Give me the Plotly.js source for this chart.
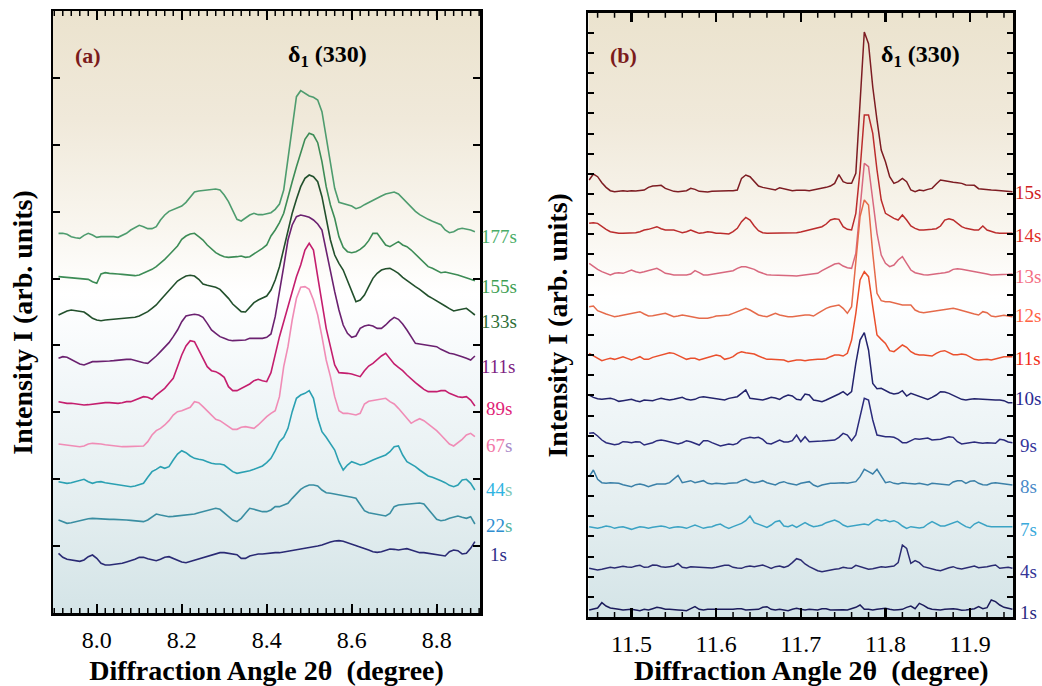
<!DOCTYPE html>
<html>
<head>
<meta charset="utf-8">
<script src="https://cdn.plot.ly/plotly-3.0.1.min.js"></script>
<style>
html,body{margin:0;padding:0;background:#ffffff;}
#chart{width:1042px;height:686px;}
</style>
</head>
<body>
<div id="chart"></div>
<script>
// ---------------- DATA ----------------
// Panel (a): diffraction angle 2θ (degree)
const angleA = [7.91,7.92,7.93,7.94,7.95,7.96,7.97,7.98,7.99,8.00,
8.01,8.02,8.03,8.04,8.05,8.06,8.07,8.08,8.09,8.10,
8.11,8.12,8.13,8.14,8.15,8.16,8.17,8.18,8.19,8.20,
8.21,8.22,8.23,8.24,8.25,8.26,8.27,8.28,8.29,8.30,
8.31,8.32,8.33,8.34,8.35,8.36,8.37,8.38,8.39,8.40,
8.41,8.42,8.43,8.44,8.45,8.46,8.47,8.48,8.49,8.50,
8.51,8.52,8.53,8.54,8.55,8.56,8.57,8.58,8.59,8.60,
8.61,8.62,8.63,8.64,8.65,8.66,8.67,8.68,8.69,8.70,
8.71,8.72,8.73,8.74,8.75,8.76,8.77,8.78,8.79,8.80,
8.81,8.82,8.83,8.84,8.85,8.86,8.87,8.88,8.89];

// stacked intensities (arb. units) for each time
const a177 = [1139,1139,1136,1129,1126,1124,1133,1139,1134,1127,
1129,1129,1131,1129,1127,1133,1139,1149,1157,1163,
1159,1153,1153,1159,1179,1194,1205,1211,1215,1221,
1232,1247,1263,1266,1268,1269,1270,1272,1269,1254,
1234,1207,1181,1176,1186,1194,1199,1195,1195,1197,
1201,1211,1227,1269,1364,1454,1549,1567,1559,1551,
1547,1539,1504,1429,1344,1274,1232,1228,1226,1221,
1213,1217,1225,1232,1239,1245,1251,1257,1261,1263,
1257,1244,1229,1215,1205,1195,1187,1181,1175,1171,
1165,1149,1141,1144,1151,1154,1152,1149,1144];

const a155 = [1009,1008,1007,1007,1005,1004,1003,1001,994,989,
1017,1021,1019,1017,1017,1016,1014,1013,1012,1014,
1019,1024,1031,1039,1049,1061,1074,1087,1101,1121,
1131,1137,1139,1129,1119,1104,1091,1081,1074,1069,
1067,1067,1069,1071,1067,1069,1077,1084,1094,1104,
1131,1149,1171,1199,1249,1294,1339,1384,1421,1439,
1434,1411,1354,1279,1224,1184,1129,1097,1084,1081,
1084,1091,1101,1117,1139,1139,1121,1104,1099,1107,
1114,1104,1099,1089,1077,1064,1051,1039,1034,1027,
1021,1023,1021,1017,1014,1009,1004,1001,997];

const a133 = [894,901,906,909,907,904,903,894,884,879,
877,879,880,881,881,882,883,884,887,891,
897,904,914,924,939,954,969,984,996,1004,
1011,1013,1011,1001,987,983,981,977,971,959,
944,927,914,904,903,917,931,939,945,951,
969,999,1039,1094,1149,1199,1241,1279,1304,1314,
1309,1294,1249,1179,1119,1074,1049,1029,999,969,
934,939,954,979,1004,1019,1029,1033,1034,1027,
1019,1007,997,987,979,971,961,951,944,937,
929,921,913,906,909,912,914,904,894];

const a111 = [764,769,767,761,754,747,744,749,754,754,
754,754,756,757,759,760,761,761,757,754,
751,749,759,771,784,797,811,829,849,874,
891,894,896,894,887,869,849,839,829,824,
819,817,817,817,819,824,824,824,824,827,
837,889,959,1039,1119,1164,1189,1194,1191,1187,
1179,1167,1149,1084,1024,964,909,864,839,827,
831,854,861,864,861,854,854,864,877,887,
881,867,849,827,809,807,805,804,803,799,
791,784,779,777,774,769,764,759,771];

const a89 = [634,631,629,629,627,626,624,625,627,627,
629,631,631,629,629,631,634,634,639,644,
649,647,641,654,664,674,689,704,739,774,
801,817,814,789,761,739,727,724,717,707,
679,667,667,674,681,687,697,701,697,694,
721,779,829,874,919,969,1009,1044,1089,1109,
1089,1009,924,854,799,744,721,721,719,717,
714,709,727,741,749,761,771,779,764,747,
737,727,714,701,691,681,671,664,663,664,
667,667,659,653,649,647,649,639,621];

const a67 = [507,505,503,501,501,499,501,507,509,509,
507,505,503,501,499,499,499,499,499,499,
501,514,534,547,554,564,577,594,604,607,
611,617,634,631,619,607,594,581,577,569,
559,551,551,557,559,556,554,564,577,589,
599,607,649,739,799,879,944,977,979,971,
939,894,829,759,709,649,607,599,599,597,
594,599,627,635,637,639,641,644,634,627,
614,599,581,569,577,583,577,567,557,547,
534,521,507,501,511,521,534,539,529];

const a44 = [394,392,389,391,395,399,401,394,389,393,
394,391,389,387,384,383,381,379,381,384,
389,407,424,431,439,434,439,459,477,487,
481,471,464,461,459,454,449,447,447,444,
434,424,419,421,424,427,431,437,441,451,
464,487,514,527,554,604,644,654,659,667,
644,584,544,527,509,489,454,429,444,454,
449,444,447,454,459,464,469,474,484,499,
501,474,454,447,439,429,419,411,407,403,
397,391,383,379,384,399,401,389,369];

const a22 = [279,273,269,271,274,277,281,283,284,283,
281,281,281,281,281,280,279,278,277,276,
274,279,289,297,294,291,289,290,291,292,
293,294,297,301,304,307,311,314,311,301,
289,279,274,284,299,314,311,307,304,304,
309,319,319,324,329,344,357,371,379,384,
384,381,369,361,359,357,355,351,349,347,
344,324,307,301,299,297,294,291,299,319,
324,325,327,328,329,330,327,311,294,281,
277,279,284,287,291,287,284,289,267];

const a1 = [179,167,161,159,157,155,159,169,174,164,
149,144,144,145,147,149,153,156,161,167,
167,163,159,157,161,167,169,164,157,153,
151,155,159,163,165,169,174,179,181,181,
179,177,175,164,164,171,174,177,177,179,
179,181,181,183,185,187,189,193,195,197,
199,201,204,209,213,216,217,215,211,207,
203,199,194,189,184,182,184,189,192,191,
189,191,193,189,184,181,181,179,177,175,
173,171,184,189,187,177,179,194,214];

const timesA = ['177s','155s','133s','111s','89s','67s','44s','22s','1s'];

// Panel (b)
const angleB = [11.450,11.455,11.460,11.465,11.470,11.475,11.480,11.485,11.490,11.495,
11.500,11.505,11.510,11.515,11.520,11.525,11.530,11.535,11.540,11.545,
11.550,11.555,11.560,11.565,11.570,11.575,11.580,11.585,11.590,11.595,
11.600,11.605,11.610,11.615,11.620,11.625,11.630,11.635,11.640,11.645,
11.650,11.655,11.660,11.665,11.670,11.675,11.680,11.685,11.690,11.695,
11.700,11.705,11.710,11.715,11.720,11.725,11.730,11.735,11.740,11.745,
11.750,11.755,11.760,11.765,11.770,11.775,11.780,11.785,11.790,11.795,
11.800,11.805,11.810,11.815,11.820,11.825,11.830,11.835,11.840,11.845,
11.850,11.855,11.860,11.865,11.870,11.875,11.880,11.885,11.890,11.895,
11.900,11.905,11.910,11.915,11.920,11.925,11.930,11.935,11.940,11.945,
11.950];

const b15 = [1311,1329,1321,1303,1289,1279,1276,1278,1279,1277,
1279,1278,1279,1281,1289,1293,1294,1295,1286,1281,
1277,1276,1278,1279,1286,1283,1277,1276,1275,1277,
1278,1278,1279,1279,1279,1281,1316,1326,1321,1306,
1293,1289,1286,1283,1281,1288,1285,1281,1279,1280,
1281,1280,1279,1281,1283,1285,1289,1293,1301,1327,
1306,1301,1301,1331,1531,1755,1720,1590,1491,1401,
1366,1321,1301,1306,1316,1306,1281,1276,1281,1279,
1283,1286,1299,1311,1309,1306,1304,1303,1301,1296,
1296,1295,1285,1283,1281,1281,1280,1279,1279,1277,
1276];

const b14 = [1181,1183,1181,1171,1163,1156,1153,1151,1151,1151,
1151,1153,1156,1161,1163,1166,1171,1165,1161,1161,
1161,1157,1153,1156,1161,1156,1151,1153,1156,1154,
1151,1151,1150,1149,1156,1166,1186,1199,1191,1173,
1159,1153,1151,1151,1152,1153,1153,1152,1151,1153,
1155,1158,1161,1165,1169,1171,1179,1191,1195,1193,
1171,1163,1161,1211,1341,1506,1506,1451,1341,1251,
1211,1203,1196,1191,1206,1191,1173,1166,1161,1161,
1161,1163,1165,1173,1191,1195,1191,1181,1171,1166,
1163,1161,1161,1173,1161,1156,1153,1151,1151,1151,
1151];

const b13 = [1061,1051,1043,1036,1031,1026,1031,1033,1031,1036,
1041,1036,1033,1036,1039,1043,1046,1039,1031,1029,
1026,1026,1026,1026,1029,1039,1033,1026,1026,1028,
1031,1033,1033,1035,1039,1046,1051,1051,1048,1043,
1036,1031,1027,1026,1026,1026,1025,1025,1024,1023,
1025,1026,1027,1029,1031,1039,1046,1053,1059,1061,
1053,1048,1046,1091,1231,1361,1351,1251,1151,1086,
1061,1051,1056,1071,1081,1061,1041,1033,1029,1027,
1026,1027,1029,1031,1033,1036,1043,1045,1043,1041,
1039,1036,1033,1031,1029,1026,1026,1026,1026,1028,
1029];

const b12 = [931,933,919,913,909,905,901,903,906,909,
911,915,916,909,903,904,906,909,911,906,
901,903,906,904,901,899,896,896,896,899,
903,904,905,906,911,916,923,926,921,913,
906,903,901,906,911,906,903,901,901,903,
906,906,906,903,911,919,926,931,934,936,
926,911,931,1071,1201,1251,1236,1091,971,949,
946,946,943,939,936,936,936,921,915,913,
915,917,919,921,923,926,926,923,919,915,
911,909,906,916,913,903,901,903,905,903,
901];

const b11 = [791,783,776,769,773,776,773,776,781,776,
771,776,781,773,773,779,783,786,791,793,
791,786,779,773,776,776,771,775,779,781,
786,783,773,776,781,791,796,793,791,789,
783,779,773,773,773,773,771,766,769,771,
771,769,771,773,773,773,775,781,786,786,
783,791,831,911,1011,1036,1021,931,846,833,
821,799,796,806,816,809,796,789,786,786,
785,783,791,797,799,793,787,787,789,787,
781,773,771,773,773,771,775,779,781,781,
781];

const b10 = [666,659,655,653,655,656,653,647,649,651,
653,649,646,651,651,649,653,656,653,651,
653,657,659,653,651,653,659,661,659,659,
657,653,651,656,659,661,671,681,656,655,
653,651,655,659,657,653,661,666,663,653,
651,669,666,651,649,646,651,656,663,669,
676,666,676,761,831,853,801,701,685,686,
679,673,669,671,679,663,671,666,661,657,
653,659,666,676,675,671,666,659,653,651,
653,655,654,653,651,651,651,651,649,643,
643];

const b9 = [551,553,543,531,523,519,517,519,526,525,
523,526,525,516,519,523,529,531,529,526,
523,519,523,529,526,521,516,529,529,523,
519,513,516,519,517,521,533,537,539,537,
539,533,521,519,526,531,525,525,529,546,
526,541,526,526,527,528,529,529,531,539,
551,546,529,546,601,656,651,591,546,543,
541,541,539,533,523,523,529,535,533,535,
537,531,531,533,537,541,539,526,519,521,
523,525,523,521,523,522,521,533,531,525,
523];

const b8 = [421,441,413,403,401,403,402,401,397,393,
391,397,399,396,391,395,399,399,399,403,
413,425,403,407,409,403,405,409,401,399,
401,400,399,401,401,403,409,413,406,403,
405,409,403,399,396,403,406,401,399,396,
401,403,406,396,391,396,399,401,401,403,
403,401,403,406,421,443,436,429,443,421,
403,406,401,399,403,401,400,399,401,399,
396,401,400,399,397,396,405,409,409,401,
407,409,401,397,396,401,403,401,399,398,
396];

const b7 = [271,269,266,269,273,271,266,269,271,267,
263,267,271,269,266,269,271,273,271,266,
269,271,269,266,271,276,271,266,269,271,
276,279,271,266,271,276,281,289,303,283,
279,273,269,276,286,289,273,271,276,269,
276,283,276,271,273,276,283,287,291,285,
276,271,273,275,277,279,276,286,293,288,
291,286,289,283,273,266,271,270,267,269,
279,286,279,273,273,277,281,287,279,271,
267,279,285,279,273,271,271,272,273,272,
271];

const b4 = [146,143,141,143,146,149,147,149,152,150,
149,153,155,149,150,156,155,151,149,151,
153,161,149,147,151,150,149,148,146,147,
149,153,155,155,149,147,146,151,153,151,
153,156,151,146,151,153,149,153,163,175,
171,159,151,145,139,136,139,141,143,145,
149,147,146,155,151,145,143,145,149,151,
149,151,153,163,216,206,161,169,163,151,
147,143,141,139,144,148,151,146,144,147,
150,153,148,149,151,154,156,146,148,149,
146];

const b1 = [21,23,27,43,33,27,26,23,21,23,
23,21,19,23,21,25,29,27,23,23,
21,21,20,19,25,31,23,21,23,23,
22,21,21,23,23,25,25,21,22,23,
23,29,31,23,21,23,21,19,23,26,
23,21,23,22,21,25,25,21,22,23,
22,21,25,29,36,23,23,21,23,25,
26,23,21,22,23,29,33,25,41,35,
27,23,22,21,23,25,25,23,20,21,
23,25,31,25,28,51,46,36,29,26,
23];

const timesB = ['15s','14s','13s','12s','11s','10s','9s','8s','7s','4s','1s'];

// ---------------- STYLE ----------------
const seriesA = [a177,a155,a133,a111,a89,a67,a44,a22,a1];
const seriesB = [b15,b14,b13,b12,b11,b10,b9,b8,b7,b4,b1];

const lineColA = ['#4e9c6e','#3d8c56','#22502c','#6b2170','#c41e6e','#f08cb6','#2ba0b2','#3a8ea2','#2a2a74'];
const textColA = [['#4aad68','#4aad68'],['#3f9f55','#3f9f55'],['#2e6e36','#2e6e36'],['#7d2282','#7d2282'],
  ['#e01f78','#e01f78'],['#f27aa8','#a98ac8'],['#2fb4e2','#80c8b8'],['#2f8ed0','#55b3a3'],['#30308a','#30308a']];
const labelYA = [1129,979,874,739,614,504,371,264,176];

const lineColB = ['#7d1c22','#bb2c2c','#d8687e','#e56a4a','#ea4f2c','#23236c','#2b2b7c','#3b80a8','#3ba3c4','#2b2b72','#1c1c5c'];
const textColB = ['#cf2222','#e0302a','#f46e82','#ff6444','#f2301a','#2a2a92','#36369c','#4a8ac8','#3aaadc','#353596','#2a2a82'];
const labelYB = [1273,1146,1021,906,776,656,516,391,263,136,13];

const W = 1042, H = 686;
const domXA = [53/W, 480/W], domYA = [1-613/H, 1-11/H];
const domXB = [588.3/W, 1013.3/W], domYB = [1-617/H, 1-12.7/H];
const rangeXA = [7.897, 8.902], rangeXB = [11.449, 11.951];
const rangeYA = [0, 1806], rangeYB = [0, 1813];
const serif = 'Liberation Serif, Times New Roman, serif';

// background gradient (bottom pale blue -> white -> beige top), filled over each axis range
const bgScale = [[0,'#d4e4e7'],[0.18,'#e4eef0'],[0.38,'#f2f7f9'],[0.53,'#ffffff'],
  [0.64,'#f9f6ef'],[0.82,'#f0e9da'],[1,'#ebe3ce']];
function bgTrace(xr, yr, xa, ya){
  return {type:'scatter',mode:'none',x:[xr[0],xr[1],xr[1],xr[0],xr[0]],y:[yr[0],yr[0],yr[1],yr[1],yr[0]],
    xaxis:xa,yaxis:ya,fill:'toself',fillcolor:'#f7f6f2',
    fillgradient:{type:'vertical',colorscale:bgScale,start:yr[0],stop:yr[1]},
    hoverinfo:'skip',showlegend:false};
}

const traces = [bgTrace(rangeXA,rangeYA,'x','y'), bgTrace(rangeXB,rangeYB,'x2','y2')];
seriesA.forEach((ys,i)=>{
  traces.push({type:'scatter',mode:'lines',x:angleA,y:ys,xaxis:'x',yaxis:'y',
    name:timesA[i],line:{color:lineColA[i],width:1.6},hoverinfo:'skip'});
});
seriesB.forEach((ys,i)=>{
  traces.push({type:'scatter',mode:'lines',x:angleB,y:ys,xaxis:'x2',yaxis:'y2',
    name:timesB[i],line:{color:lineColB[i],width:1.5},hoverinfo:'skip'});
});

const annotations = [];
timesA.forEach((t,i)=>{
  const num = t.slice(0,-1);
  annotations.push({xref:'x domain',yref:'y',x:1,y:labelYA[i],xanchor:'center',yanchor:'middle',xshift:18.5,
    showarrow:false,font:{family:serif,size:19,color:textColA[i][0]},
    text:'<span style="color:'+textColA[i][0]+'">'+num+'</span><span style="color:'+textColA[i][1]+'">s</span>'});
});
timesB.forEach((t,i)=>{
  annotations.push({xref:'x2 domain',yref:'y2',x:1,y:labelYB[i],xanchor:'center',yanchor:'middle',xshift:15,
    showarrow:false,font:{family:serif,size:19,color:textColB[i]},text:t});
});
annotations.push({xref:'paper',yref:'paper',x:87.7/W,y:1-55/H,xanchor:'center',yanchor:'middle',showarrow:false,
  text:'<b>(a)</b>',font:{family:serif,size:22,color:'#7b1b1b'}});
annotations.push({xref:'paper',yref:'paper',x:623/W,y:1-55/H,xanchor:'center',yanchor:'middle',showarrow:false,
  text:'<b>(b)</b>',font:{family:serif,size:22,color:'#7b1b1b'}});
annotations.push({xref:'paper',yref:'paper',x:327.5/W,y:1-56/H,xanchor:'center',yanchor:'middle',showarrow:false,
  text:'<b>δ<sub>1</sub> (330)</b>',font:{family:serif,size:24,color:'#000'}});
annotations.push({xref:'paper',yref:'paper',x:920.5/W,y:1-56/H,xanchor:'center',yanchor:'middle',showarrow:false,
  text:'<b>δ<sub>1</sub> (330)</b>',font:{family:serif,size:24,color:'#000'}});

// ---- minor inside tick marks on top & bottom edges (placed on the axes' own scales) ----
const shapes = [];
function xMinorTicks(xr, yr, first, step, count, lenPx, plotHpx, width){
  const f = lenPx/plotHpx;
  for(let k=0;k<count;k++){
    const v = +(first + step*k).toFixed(4);
    shapes.push({type:'line',xref:xr,yref:yr+' domain',x0:v,x1:v,y0:0,y1:f,line:{color:'#000',width:width},layer:'above'});
    shapes.push({type:'line',xref:xr,yref:yr+' domain',x0:v,x1:v,y0:1-f,y1:1,line:{color:'#000',width:width},layer:'above'});
  }
}
xMinorTicks('x','y',7.90,0.02,51,5,602,1.5);
xMinorTicks('x2','y2',11.46,0.02,25,5,604,1.5);

const tickFont = {family:serif,size:24,color:'#000'};
const NB = '\u00a0';
const xTitleA = {text:'<b>Diffraction Angle 2θ'+NB+' (degree)</b>',font:{family:serif,size:28,color:'#000'},standoff:9};
const xTitleB = {text:'<b>'+NB+NB+NB+'Diffraction Angle 2θ'+NB+' (degree)</b>',font:{family:serif,size:28,color:'#000'},standoff:9};
const yTitle = {text:'<b>Intensity I (arb. units)'+NB+NB+NB+'</b>',font:{family:serif,size:28,color:'#000'},standoff:10};

const baseX = {showline:true,linecolor:'#000',linewidth:2.5,mirror:'ticks',ticks:'inside',ticklen:9,tickwidth:2.2,
  tickcolor:'#000',showgrid:false,zeroline:false,tickfont:tickFont,tickformat:'.1f',ticklabelstandoff:4};
const baseY = {showline:true,linecolor:'#000',linewidth:2.5,mirror:'ticks',ticks:'inside',tickwidth:2,
  tickcolor:'#000',showgrid:false,zeroline:false,showticklabels:false,tick0:0};

const layout = {
  width:W,height:H,margin:{l:0,r:0,t:0,b:0},paper_bgcolor:'#ffffff',plot_bgcolor:'rgba(0,0,0,0)',
  showlegend:false,hovermode:false,
  xaxis:Object.assign({},baseX,{domain:domXA,range:rangeXA,tick0:8.0,dtick:0.2,anchor:'y',title:xTitleA}),
  yaxis:Object.assign({},baseY,{domain:domYA,range:rangeYA,dtick:rangeYA[1]/9,ticklen:7,anchor:'x',title:yTitle}),
  xaxis2:Object.assign({},baseX,{domain:domXB,range:rangeXB,tick0:11.5,dtick:0.1,anchor:'y2',title:xTitleB}),
  yaxis2:Object.assign({},baseY,{domain:domYB,range:rangeYB,dtick:rangeYB[1]/30,ticklen:6,anchor:'x2',title:yTitle}),
  annotations:annotations,
  shapes:shapes
};

Plotly.newPlot('chart',traces,layout,{staticPlot:true,displayModeBar:false});
</script>
</body>
</html>
